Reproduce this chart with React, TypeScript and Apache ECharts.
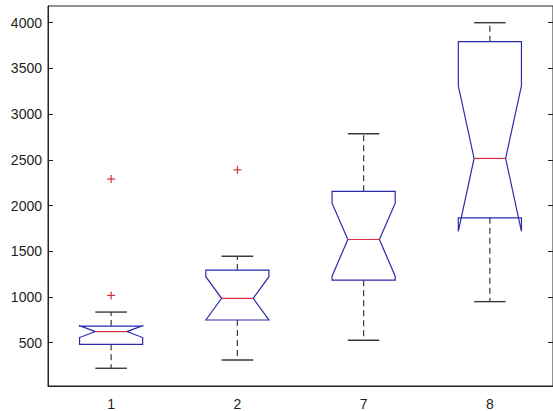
import React, { useEffect, useRef } from "react";
import * as echarts from "echarts";

const categories = ["1", "2", "7", "8"];
const whiskerLow = [219, 310, 525, 948];
const q1 = [481, 747, 1183, 1865];
const notchLow = [555, 747, 1227, 1718];
const median = [620, 984, 1628, 2515];
const notchHigh = [685, 1221, 2025, 3310];
const q3 = [681, 1293, 2155, 3793];
const whiskerHigh = [834, 1445, 2785, 4000];
const outliers: [number, number][] = [
  [0, 1016],
  [0, 2290],
  [1, 2390],
];
const yTicks = [500, 1000, 1500, 2000, 2500, 3000, 3500, 4000];

const BLUE = "#2b2baa";
const RED = "#d8303c";
const BLACK = "#3a3a3a";

export default function App() {
  const ref = useRef<HTMLDivElement>(null);
  useEffect(() => {
    document.body.style.margin = "0";
    const chart = echarts.init(ref.current!, undefined, { renderer: "svg" });
    const boxData = categories.map((_, i) => [
      i,
      whiskerLow[i],
      q1[i],
      notchLow[i],
      median[i],
      notchHigh[i],
      q3[i],
      whiskerHigh[i],
    ]);
    const labelStyle = {
      color: "#1e1e1e",
      fontFamily: "Liberation Sans",
      fontSize: 14,
    };
    chart.setOption({
      animation: false,
      backgroundColor: "#fff",
      grid: {
        left: 48,
        right: -3,
        top: 6,
        bottom: 24,
        show: true,
        borderColor: "#222",
        borderWidth: 1,
        backgroundColor: "transparent",
      },
      xAxis: {
        type: "category",
        data: categories,
        boundaryGap: true,
        axisLine: { show: true, lineStyle: { color: "#222", width: 1 } },
        axisTick: { show: false },
        axisLabel: { ...labelStyle, margin: 11 },
        splitLine: { show: false },
      },
      yAxis: [
        {
          type: "value",
          min: 25,
          max: 4183,
          position: "left",
          axisLine: { show: true, lineStyle: { color: "#222", width: 1 } },
          axisTick: {
            show: true,
            inside: true,
            length: 5,
            customValues: yTicks,
            lineStyle: { color: "#222" },
          },
          axisLabel: {
            ...labelStyle,
            margin: 6,
            customValues: yTicks,
            formatter: (v: number) => String(v),
          },
          splitLine: { show: false },
        },
        {
          type: "value",
          min: 25,
          max: 4183,
          position: "right",
          axisLine: { show: true, lineStyle: { color: "#222", width: 1 } },
          axisTick: {
            show: true,
            inside: true,
            length: 5,
            customValues: yTicks,
            lineStyle: { color: "#222" },
          },
          axisLabel: { show: false },
          splitLine: { show: false },
        },
      ],
      series: [
        {
          type: "custom",
          data: boxData,
          encode: { x: 0, y: [1, 2, 3, 4, 5, 6, 7] },
          renderItem: (params: any, api: any) => {
            const idx = api.value(0);
            const cx = api.coord([idx, 0])[0];
            const band = api.size([1, 0])[0];
            const w = band * 0.5;
            const L = cx - w / 2;
            const R = cx + w / 2;
            const n = w / 4;
            const y = (v: number) => api.coord([idx, v])[1];
            const wl = y(api.value(1));
            const b1 = y(api.value(2));
            const nl = y(api.value(3));
            const md = y(api.value(4));
            const nh = y(api.value(5));
            const b3 = y(api.value(6));
            const wh = y(api.value(7));
            const dashStyle = { stroke: BLACK, lineWidth: 1.2, lineDash: [6, 4], fill: null };
            const capStyle = { stroke: BLACK, lineWidth: 1.4 };
            return {
              type: "group",
              children: [
                { type: "line", shape: { x1: cx, y1: b3, x2: cx, y2: wh }, style: dashStyle },
                { type: "line", shape: { x1: cx, y1: b1, x2: cx, y2: wl }, style: dashStyle },
                { type: "line", shape: { x1: cx - w / 4, y1: wh, x2: cx + w / 4, y2: wh }, style: capStyle },
                { type: "line", shape: { x1: cx - w / 4, y1: wl, x2: cx + w / 4, y2: wl }, style: capStyle },
                {
                  type: "polygon",
                  shape: {
                    points: [
                      [L, b1],
                      [L, nl],
                      [L + n, md],
                      [L, nh],
                      [L, b3],
                      [R, b3],
                      [R, nh],
                      [R - n, md],
                      [R, nl],
                      [R, b1],
                    ],
                  },
                  style: { fill: "none", stroke: BLUE, lineWidth: 1.2 },
                },
                { type: "line", shape: { x1: L + n, y1: md, x2: R - n, y2: md }, style: { stroke: RED, lineWidth: 1.2 } },
              ],
            };
          },
        },
        {
          type: "custom",
          data: outliers,
          encode: { x: 0, y: 1 },
          renderItem: (params: any, api: any) => {
            const p = api.coord([api.value(0), api.value(1)]);
            const s = 4;
            const st = { stroke: RED, lineWidth: 1.2 };
            return {
              type: "group",
              children: [
                { type: "line", shape: { x1: p[0] - s, y1: p[1], x2: p[0] + s, y2: p[1] }, style: st },
                { type: "line", shape: { x1: p[0], y1: p[1] - s, x2: p[0], y2: p[1] + s }, style: st },
              ],
            };
          },
        },
      ],
    });
    return () => chart.dispose();
  }, []);
  return <div ref={ref} style={{ width: 553, height: 411 }} />;
}
